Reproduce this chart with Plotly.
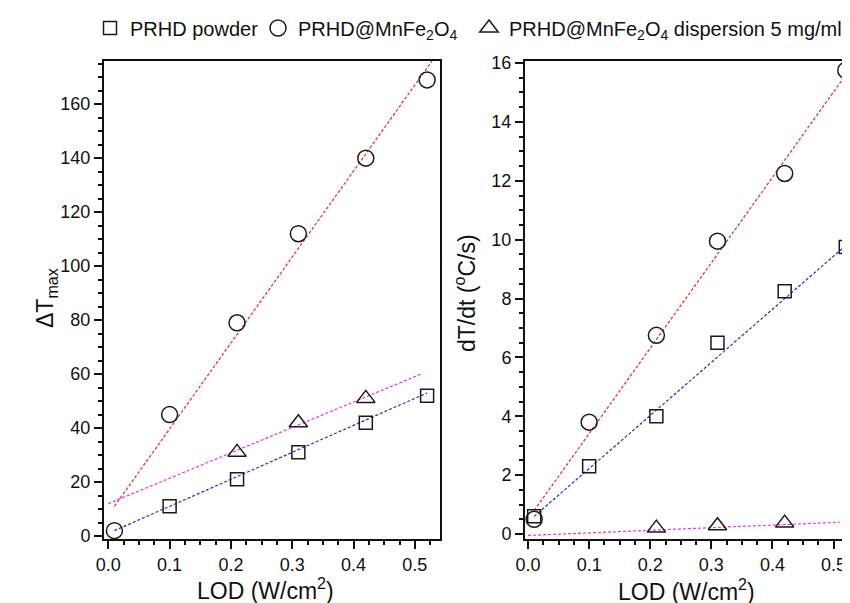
import plotly.graph_objects as go

# ---------------- data ----------------
lod = [0.01, 0.10, 0.21, 0.31, 0.42, 0.52]
lod_disp = [0.21, 0.31, 0.42]
lod_powder_left = [0.10, 0.21, 0.31, 0.42, 0.52]

# left panel: Delta T max
dT_powder = [11, 21, 31, 42, 52]
dT_mnfe = [2, 45, 79, 112, 140, 169]
dT_disp = [31, 42, 51]

# right panel: dT/dt
rate_powder = [0.6, 2.3, 4.0, 6.5, 8.25, 9.75]
rate_mnfe = [0.5, 3.8, 6.75, 9.95, 12.25, 15.75]
rate_disp = [0.2, 0.28, 0.37]

# linear fit lines (end points)
fitL_powder_x, fitL_powder_y = [0.01, 0.52], [2, 53]
fitL_mnfe_x, fitL_mnfe_y = [0.01, 0.528], [11, 176]
fitL_disp_x, fitL_disp_y = [0.0, 0.51], [12, 60]
fitR_powder_x, fitR_powder_y = [0.01, 0.52], [0.6, 9.8]
fitR_mnfe_x, fitR_mnfe_y = [0.01, 0.52], [0.8, 15.6]
fitR_disp_x, fitR_disp_y = [0.0, 0.51], [-0.05, 0.4]

names = ["PRHD powder", "PRHD@MnFe<sub>2</sub>O<sub>4</sub>",
         "PRHD@MnFe<sub>2</sub>O<sub>4</sub> dispersion 5 mg/ml"]

# ---------------- style ----------------
FONT = "Liberation Sans, Arial, sans-serif"
RED, BLUE, MAG = "#e8282a", "#2b2bc4", "#e236e2"
INK = "#1a1a1a"
W, H = 850, 603

fig = go.Figure()

def fit(x, y, color, xa, ya):
    fig.add_trace(go.Scatter(x=x, y=y, mode="lines", xaxis=xa, yaxis=ya,
                             line=dict(color=color, width=1.2, dash="3px,2px"),
                             showlegend=False, hoverinfo="skip"))

# fit lines first (below markers)
fit(fitL_powder_x, fitL_powder_y, BLUE, "x", "y")
fit(fitL_mnfe_x, fitL_mnfe_y, RED, "x", "y")
fit(fitL_disp_x, fitL_disp_y, MAG, "x", "y")
fit(fitR_powder_x, fitR_powder_y, BLUE, "x2", "y2")
fit(fitR_mnfe_x, fitR_mnfe_y, RED, "x2", "y2")
fit(fitR_disp_x, fitR_disp_y, MAG, "x2", "y2")

def pts(x, y, sym, size, xa, ya, name, legend=None):
    fig.add_trace(go.Scatter(
        x=x, y=y, mode="markers", xaxis=xa, yaxis=ya, name=name,
        marker=dict(symbol=sym, size=size, color=INK, line=dict(color=INK, width=1.5)),
        showlegend=legend is not None, legend=legend or "legend"))

pts(lod_powder_left, dT_powder, "square-open", 13, "x", "y", names[0], "legend")
pts(lod, dT_mnfe, "circle-open", 16, "x", "y", names[1], "legend2")
pts(lod_disp, dT_disp, "triangle-up-open", 16, "x", "y", names[2], "legend3")
pts(lod, rate_powder, "square-open", 13, "x2", "y2", names[0])
pts(lod, rate_mnfe, "circle-open", 16, "x2", "y2", names[1])
pts(lod_disp, rate_disp, "triangle-up-open", 16, "x2", "y2", names[2])

tickfont = dict(family=FONT, size=18, color="#111")
axis_common = dict(showline=True, linecolor="#111", linewidth=2, mirror=True,
                   ticks="outside", ticklen=8, tickwidth=2, tickcolor="#111",
                   showgrid=False, zeroline=False, tickfont=tickfont,
                   automargin=False)

y0, y1 = 1 - 531 / H, 1 - 53 / H

fig.update_layout(
    width=W, height=H, plot_bgcolor="white", paper_bgcolor="white",
    margin=dict(l=0, r=0, t=0, b=0, autoexpand=False),
    font=dict(family=FONT, color="#111"),
    xaxis=dict(domain=[96 / W, 432 / W], range=[-0.007, 0.541], dtick=0.1,
               tickformat=".1f", anchor="y",
               minor=dict(dtick=0.025, ticks="outside", ticklen=4, tickwidth=1.5,
                          tickcolor="#111", showgrid=False),
               **axis_common),
    yaxis=dict(domain=[y0, y1], range=[-1.1, 176], dtick=20, anchor="x",
               minor=dict(dtick=5, ticks="outside", ticklen=4, tickwidth=1.5,
                          tickcolor="#111", showgrid=False),
               **axis_common),
    xaxis2=dict(domain=[517 / W, 1.0], range=[-0.005, 0.54], dtick=0.1,
                tickformat=".1f", anchor="y2",
                minor=dict(dtick=0.025, ticks="outside", ticklen=4, tickwidth=1.5,
                           tickcolor="#111", showgrid=False),
                **axis_common),
    yaxis2=dict(domain=[y0, y1], range=[-0.17, 16.07], dtick=2, anchor="x2",
                minor=dict(dtick=0.5, ticks="outside", ticklen=4, tickwidth=1.5,
                           tickcolor="#111", showgrid=False),
                **axis_common),
)

leg_common = dict(orientation="h", yanchor="middle", y=1 - 20 / H, xanchor="left",
                  bgcolor="rgba(0,0,0,0)", borderwidth=0,
                  font=dict(family=FONT, size=20, color="#111"),
                  itemwidth=30, tracegroupgap=0)
fig.update_layout(
    legend=dict(x=82 / W, **leg_common),
    legend2=dict(x=250 / W, **leg_common),
    legend3=dict(x=461 / W, **leg_common),
)

title_font = dict(family=FONT, size=23, color="#111")
fig.add_annotation(text="LOD (W/cm<sup>2</sup>)", x=257 / W, y=1 - 581 / H,
                   xref="paper", yref="paper", showarrow=False, font=title_font,
                   xanchor="center", yanchor="middle")
fig.add_annotation(text="LOD (W/cm<sup>2</sup>)", x=678 / W, y=1 - 582 / H,
                   xref="paper", yref="paper", showarrow=False, font=title_font,
                   xanchor="center", yanchor="middle")
fig.add_annotation(text="ΔT<sub>max</sub>", x=38 / W, y=1 - 290 / H,
                   xref="paper", yref="paper", showarrow=False, font=title_font,
                   textangle=-90, xanchor="center", yanchor="middle")
fig.add_annotation(text="dT/dt (<sup>o</sup>C/s)", x=457 / W, y=1 - 285 / H,
                   xref="paper", yref="paper", showarrow=False, font=title_font,
                   textangle=-90, xanchor="center", yanchor="middle")

fig.write_html("out.html")
